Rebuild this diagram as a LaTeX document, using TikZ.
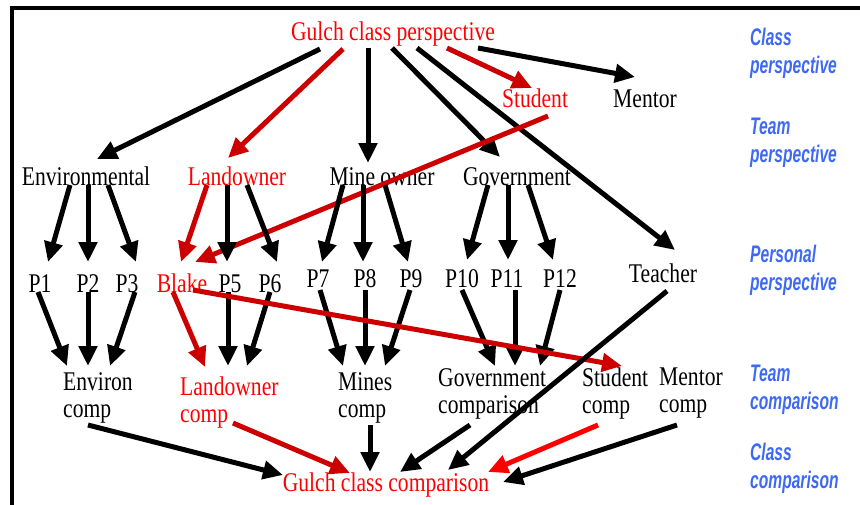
\documentclass[tikz,border=0pt]{standalone}
\usepackage{fontspec}
\usetikzlibrary{arrows.meta}
\newfontfamily\diagserif[FakeStretch=0.8]{Liberation Serif}
\newfontfamily\tiersans[FakeStretch=0.65]{Liberation Sans}
\definecolor{textred}{RGB}{255,0,0}
\definecolor{arrowred}{RGB}{204,0,0}
\definecolor{tierblue}{RGB}{61,105,245}
\newcommand{\diagfont}{\diagserif\fontsize{27}{27}\selectfont}
\newcommand{\tierfont}{\tiersans\bfseries\itshape\fontsize{24}{28}\selectfont}
\tikzset{
  term/.style={font=\diagfont,inner sep=0pt,anchor=base},
  redterm/.style={term,text=textred},
  pair/.style={font=\diagfont,inner sep=0pt,anchor=north west,align=left},
  redpair/.style={pair,text=textred},
  tier/.style={font=\tierfont,text=tierblue,inner sep=0pt,anchor=north west,align=left},
  arr/.style={-{Triangle[length=20pt,width=18pt]},draw=black,line width=5pt},
  redarr/.style={arr,draw=arrowred},
  brightarr/.style={arr,draw=textred}
}

\begin{document}
\begin{tikzpicture}[x=1pt,y=-1pt]
\useasboundingbox (0,0) rectangle (860,504);
\clip (0,0) rectangle (860,504);
\draw[line width=4pt] (12,8) rectangle (900,600);
% class level
\node[redterm] (gpersp) at (393,40) {Gulch class perspective};
\node[redterm] (student) at (535,107) {Student};
\node[term] (mentor) at (645,107) {Mentor};
% teams
\node[term] (env) at (86,185) {Environmental};
\node[redterm] (land) at (237,185) {Landowner};
\node[term] (mine) at (382,185) {Mine owner};
\node[term] (gov) at (517,185) {Government};
% persons
\node[term] (p1) at (40,292) {P1};
\node[term] (p2) at (88,292) {P2};
\node[term] (p3) at (127,292) {P3};
\node[redterm] (blake) at (182,292) {Blake};
\node[term] (p5) at (230,292) {P5};
\node[term] (p6) at (270,292) {P6};
\node[term] (p7) at (318,287) {P7};
\node[term] (p8) at (365,287) {P8};
\node[term] (p9) at (411,287) {P9};
\node[term] (p10) at (462,287) {P10};
\node[term] (p11) at (507,287) {P11};
\node[term] (p12) at (560,287) {P12};
\node[term] (teacher) at (663,282) {Teacher};
% comparisons
\node[pair] (envc) at (63,372) {Environ\\comp};
\node[redpair] (landc) at (180,377) {Landowner\\comp};
\node[pair] (minec) at (338,372) {Mines\\comp};
\node[pair] (govc) at (438,368) {Government\\comparison};
\node[pair] (studc) at (582,368) {Student\\comp};
\node[pair] (mentc) at (659,368) {Mentor\\comp};
\node[redterm] (gcomp) at (386,491) {Gulch class comparison};
% levels on the right
\node[tier] (tclass) at (750,28) {Class\\perspective};
\node[tier] (tteam) at (750,118) {Team\\perspective};
\node[tier] (tpers) at (750,245) {Personal\\perspective};
\node[tier] (tteamc) at (750,365) {Team\\comparison};
\node[tier] (tclassc) at (750,443) {Class\\comparison};

% from the class perspective
\draw[arr] ([shift={(-73,9)}]gpersp.base) -- ([shift={(11,-26)}]env.base);
\draw[redarr] ([shift={(-50,9)}]gpersp.base) -- ([shift={(-9,-27)}]land.base);
\draw[arr] ([shift={(-25,8)}]gpersp.base) -- ([shift={(-14,-22)}]mine.base);
\draw[arr] ([shift={(-1,8)}]gpersp.base) -- ([shift={(-17,-28)}]gov.base);
\draw[arr] ([shift={(24,8)}]gpersp.base) -- ([shift={(12,-32)}]teacher.base);
\draw[redarr] ([shift={(54,8)}]gpersp.base) -- ([shift={(-3,-19)}]student.base);
\draw[arr] ([shift={(85,8)}]gpersp.base) -- ([shift={(-10,-30)}]mentor.base);
\draw[redarr] ([shift={(13,9)}]student.base) -- ([shift={(13,-30)}]blake.base);

% teams to persons
\draw[arr] ([shift={(-16,0)}]env.base) -- ([shift={(8,-30)}]p1.base);
\draw[arr] ([shift={(2,0)}]env.base) -- ([shift={(0,-30)}]p2.base);
\draw[arr] ([shift={(22,0)}]env.base) -- ([shift={(9,-30)}]p3.base);
\draw[redarr] ([shift={(-30,0)}]land.base) -- ([shift={(-1,-30)}]blake.base);
\draw[arr] ([shift={(-10,0)}]land.base) -- ([shift={(-3,-30)}]p5.base);
\draw[arr] ([shift={(10,0)}]land.base) -- ([shift={(7,-30)}]p6.base);
\draw[arr] ([shift={(-39,0)}]mine.base) -- ([shift={(4,-25)}]p7.base);
\draw[arr] ([shift={(-19,0)}]mine.base) -- ([shift={(-2,-25)}]p8.base);
\draw[arr] ([shift={(3,0)}]mine.base) -- ([shift={(-3,-25)}]p9.base);
\draw[arr] ([shift={(-29,0)}]gov.base) -- ([shift={(5,-27)}]p10.base);
\draw[arr] ([shift={(-9,0)}]gov.base) -- ([shift={(1,-27)}]p11.base);
\draw[arr] ([shift={(11,0)}]gov.base) -- ([shift={(-7,-27)}]p12.base);

% persons to comparisons
\draw[arr] ([shift={(-2,0)}]p1.base) -- ([shift={(4,-6)}]envc.north west);
\draw[arr] ([shift={(0,0)}]p2.base) -- ([shift={(25,-6)}]envc.north west);
\draw[arr] ([shift={(8,0)}]p3.base) -- ([shift={(47,-6)}]envc.north west);
\draw[redarr] ([shift={(-9,0)}]blake.base) -- ([shift={(25,-10)}]landc.north west);
\draw[arr] ([shift={(-2,0)}]p5.base) -- ([shift={(48,-11)}]landc.north west);
\draw[arr] ([shift={(0,0)}]p6.base) -- ([shift={(67,-11)}]landc.north west);
\draw[arr] ([shift={(2,3)}]p7.base) -- ([shift={(5,-6)}]minec.north west);
\draw[arr] ([shift={(0,3)}]p8.base) -- ([shift={(27,-6)}]minec.north west);
\draw[arr] ([shift={(-1,3)}]p9.base) -- ([shift={(47,-6)}]minec.north west);
\draw[arr] ([shift={(0,3)}]p10.base) -- ([shift={(57,-2)}]govc.north west);
\draw[arr] ([shift={(8,3)}]p11.base) -- ([shift={(77,-2)}]govc.north west);
\draw[arr] ([shift={(0,3)}]p12.base) -- ([shift={(102,-2)}]govc.north west);
\draw[redarr] ([shift={(11,-2)}]blake.base) -- ([shift={(40,-2)}]studc.north west);
\draw[arr] ([shift={(4,9)}]teacher.base) -- ([shift={(62,-21)}]gcomp.base);

% comparisons to the class comparison
\draw[arr] ([shift={(25,53)}]envc.north west) -- ([shift={(-103,-16)}]gcomp.base);
\draw[redarr] ([shift={(53,46)}]landc.north west) -- ([shift={(-36,-18)}]gcomp.base);
\draw[arr] ([shift={(32,53)}]minec.north west) -- ([shift={(-16,-19)}]gcomp.base);
\draw[arr] ([shift={(32,57)}]govc.north west) -- ([shift={(14,-19)}]gcomp.base);
\draw[brightarr] ([shift={(16,57)}]studc.north west) -- ([shift={(102,-19)}]gcomp.base);
\draw[arr] ([shift={(18,57)}]mentc.north west) -- ([shift={(117,-9)}]gcomp.base);
\end{tikzpicture}
\end{document}
